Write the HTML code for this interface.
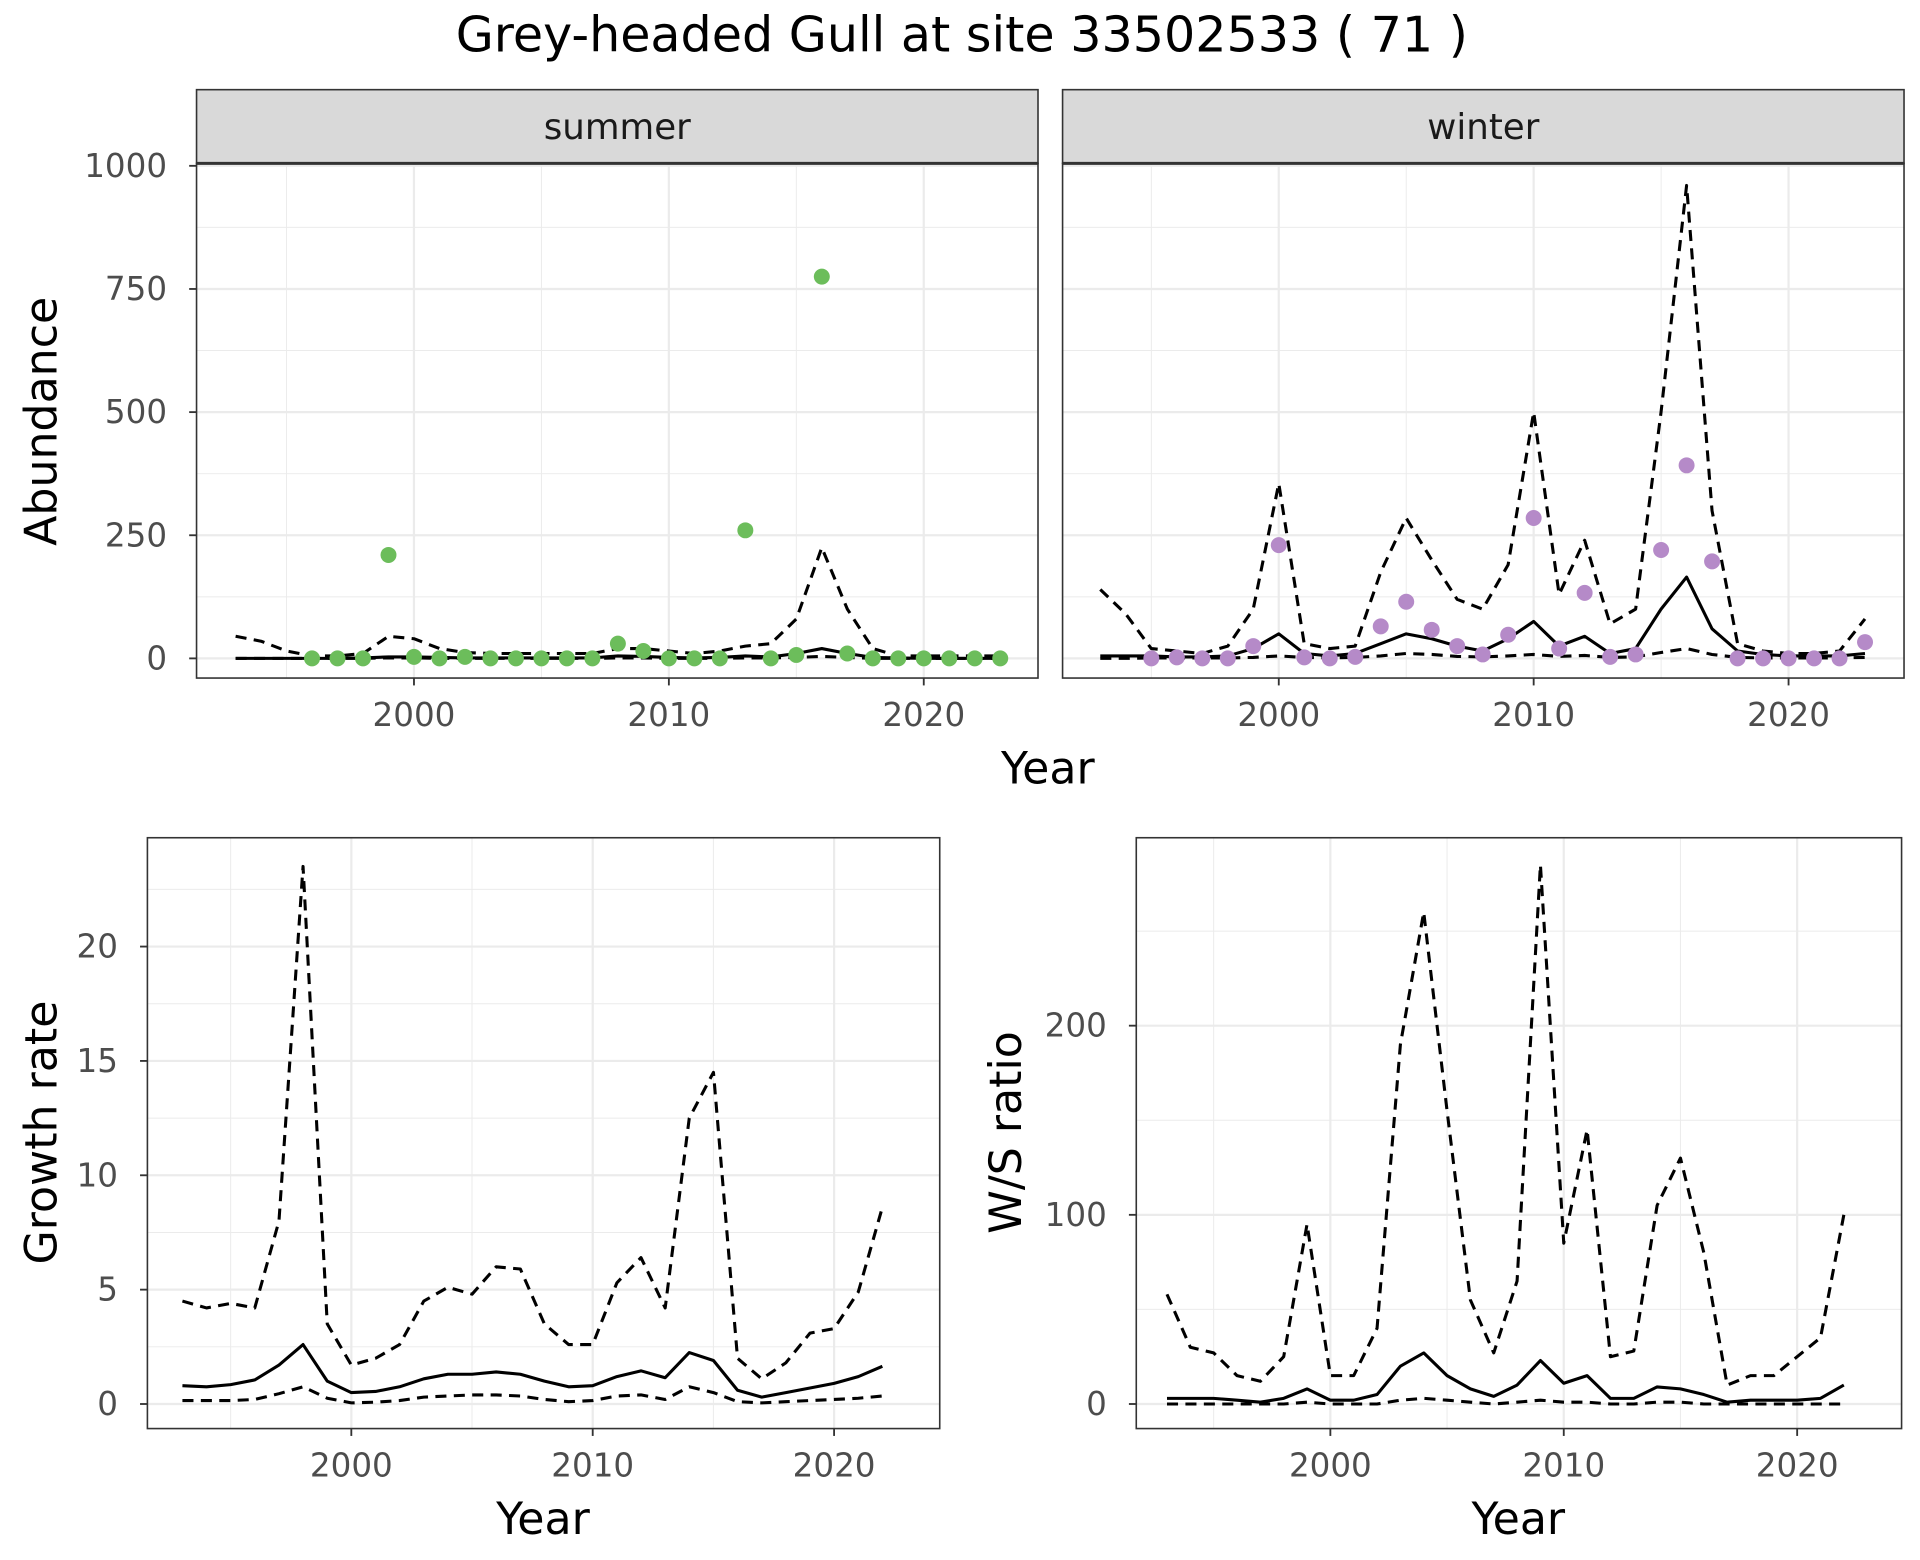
<!DOCTYPE html>
<html><head><meta charset="utf-8"><style>
html,body{margin:0;padding:0;background:#fff;}
svg{display:block;font-family:"DejaVu Sans","Liberation Sans",sans-serif;}
</style></head><body>
<svg id="c" width="1920" height="1560" viewBox="0 0 1563 1270" preserveAspectRatio="none" xmlns="http://www.w3.org/2000/svg">
<text x="783" y="42" text-anchor="middle" font-size="40" fill="#000">Grey-headed Gull at site 33502533 ( 71 )</text>
</svg>
<script>
const summerYears=[1996,1997,1998,1999,2000,2001,2002,2003,2004,2005,2006,2007,2008,2009,2010,2011,2012,2013,2014,2015,2016,2017,2018,2019,2020,2021,2022,2023];
const summerCounts=[0,0,0,210,3,0,3,0,0,0,0,0,30,15,0,0,0,260,0,7,775,10,0,0,0,0,0,0];
const fitYears=[1993,1994,1995,1996,1997,1998,1999,2000,2001,2002,2003,2004,2005,2006,2007,2008,2009,2010,2011,2012,2013,2014,2015,2016,2017,2018,2019,2020,2021,2022,2023];
const summerMid=[0,0,0,0,0,1,3,3,2,1,1,1,1,1,1,5,4,2,1,2,5,3,10,20,10,2,1,0,0,0,0];
const summerUp=[45,35,15,5,5,10,45,40,20,12,10,10,10,10,10,20,20,15,10,15,25,30,80,225,100,20,5,5,5,5,5];
const summerLo=[0,0,0,0,0,0,1,1,0,0,0,0,0,0,0,1,1,0,0,0,1,1,2,4,2,0,0,0,0,0,0];
const winterYears=[1995,1996,1997,1998,1999,2000,2001,2002,2003,2004,2005,2006,2007,2008,2009,2010,2011,2012,2013,2014,2015,2016,2017,2018,2019,2020,2021,2022,2023];
const winterCounts=[0,2,0,0,25,230,2,0,3,65,115,58,25,8,48,285,20,133,3,8,220,392,197,0,0,0,0,0,33];
const winterMid=[5,5,5,3,3,5,20,50,10,5,10,30,50,40,25,15,40,75,25,45,10,20,100,165,60,15,8,5,5,5,10];
const winterUp=[140,90,20,15,10,25,100,355,30,20,25,175,285,200,120,100,190,500,130,240,70,100,500,960,300,30,15,10,10,15,80];
const winterLo=[0,0,1,1,1,1,2,5,2,1,2,5,10,8,4,3,5,8,4,6,2,3,12,20,8,2,1,1,1,1,2];
const grYears=[1993,1994,1995,1996,1997,1998,1999,2000,2001,2002,2003,2004,2005,2006,2007,2008,2009,2010,2011,2012,2013,2014,2015,2016,2017,2018,2019,2020,2021,2022];
const grMid=[0.8,0.75,0.85,1.05,1.7,2.6,1.0,0.5,0.55,0.75,1.1,1.3,1.3,1.4,1.3,1.0,0.75,0.8,1.2,1.45,1.15,2.25,1.9,0.6,0.3,0.5,0.7,0.9,1.2,1.65];
const grUp=[4.5,4.2,4.4,4.2,8,23.5,3.5,1.7,2.0,2.6,4.5,5.1,4.8,6.0,5.9,3.5,2.6,2.6,5.3,6.4,4.2,12.5,14.5,2.0,1.1,1.8,3.1,3.3,4.9,8.6];
const grLo=[0.15,0.15,0.15,0.2,0.45,0.75,0.25,0.05,0.08,0.15,0.3,0.35,0.4,0.4,0.35,0.2,0.1,0.15,0.35,0.4,0.2,0.75,0.5,0.1,0.05,0.1,0.15,0.2,0.25,0.35];
const wsMid=[3,3,3,2,1,3,8,2,2,5,20,27,15,8,4,10,23,11,15,3,3,9,8,5,1,2,2,2,3,10];
const wsUp=[58,30,27,15,12,25,95,15,15,40,190,260,155,55,27,65,285,85,145,25,28,105,130,80,10,15,15,25,35,100];
const wsLo=[0,0,0,0,0,0,1,0,0,0,2,3,2,1,0,1,2,1,1,0,0,1,1,0,0,0,0,0,0,0];
const topTicks=[0,250,500,750,1000];
const grTicks=[0,5,10,15,20];
const wsTicks=[0,100,200];
const xTicks=[2000,2010,2020];

const svg=document.getElementById('c');
const NS='http://www.w3.org/2000/svg';
function mk(tag,attrs,parent){const e=document.createElementNS(NS,tag);for(const k in attrs)e.setAttribute(k,attrs[k]);(parent||svg).appendChild(e);return e;}
function lin(d0,d1,r0,r1){return v=>r0+(v-d0)*(r1-r0)/(d1-d0);}

function panel(p){
  const g=mk('g',{});
  
  
  const x=lin(p.xd[0],p.xd[1],p.l,p.r), y=lin(p.yd[0],p.yd[1],p.b,p.t);
  p.xMinor.forEach(v=>{const l=mk('line',{x1:x(v),x2:x(v),y1:p.t,y2:p.b,stroke:'#ebebeb','stroke-width':0.8},g);});
  p.yMinor.forEach(v=>{const l=mk('line',{x1:p.l,x2:p.r,y1:y(v),y2:y(v),stroke:'#ebebeb','stroke-width':0.8},g);});
  p.xT.forEach(v=>{const l=mk('line',{x1:x(v),x2:x(v),y1:p.t,y2:p.b,stroke:'#ebebeb','stroke-width':1.8},g);});
  p.yT.forEach(v=>{const l=mk('line',{x1:p.l,x2:p.r,y1:y(v),y2:y(v),stroke:'#ebebeb','stroke-width':1.8},g);});
  p.series.forEach(s=>{
    const d=s.xs.map((v,i)=>(i?'L':'M')+x(v).toFixed(1)+','+y(s.ys[i]).toFixed(1)).join('');
    const path=mk('path',{d:d,fill:'none',stroke:'#000','stroke-width':2.5,'stroke-dasharray':s.dash||'none','stroke-linejoin':'round'},g);
    
    
  });
  if(p.pts){p.pts.xs.forEach((v,i)=>{const c=mk('circle',{cx:x(v),cy:y(p.pts.ys[i]),r:6.5,fill:p.pts.color},g);
    
    });}
  const br=mk('rect',{x:p.l,y:p.t,width:p.r-p.l,height:p.b-p.t,fill:'none',stroke:'#333','stroke-width':1.3},g);
  
  
  p.xT.forEach(v=>{mk('line',{x1:x(v),x2:x(v),y1:p.b,y2:p.b+6,stroke:'#333','stroke-width':1.5},g);
    const t=mk('text',{x:x(v),y:p.b+39,'text-anchor':'middle','font-size':26.5,fill:'#4d4d4d'},g);t.textContent=v;
    
    });
  if(p.yLabels){p.yT.forEach(v=>{mk('line',{x1:p.l-6,x2:p.l,y1:y(v),y2:y(v),stroke:'#333','stroke-width':1.5},g);
    const t=mk('text',{x:p.l-24,y:y(v)+9,'text-anchor':'end','font-size':26.5,fill:'#4d4d4d'},g);t.textContent=v;
    
    });}
  if(p.strip){const sr=mk('rect',{x:p.l,y:73,width:p.r-p.l,height:p.t-73,fill:'#d9d9d9',stroke:'#333','stroke-width':1.3},g);
    
    
    mk('line',{x1:p.l,x2:p.r,y1:p.t,y2:p.t,stroke:'#333','stroke-width':2.5},g);
    const t=mk('text',{x:(p.l+p.r)/2,y:113,'text-anchor':'middle','font-size':29,fill:'#1a1a1a'},g);t.textContent=p.strip;
    
    }
}
function label(txt,x,y,rot,name){const t=mk('text',{x:x,y:y,'text-anchor':'middle','font-size':36,fill:'#000',transform:rot?`rotate(-90 ${x} ${y})`:''});t.textContent=txt;
  
  }

const topY=[ -(552-536)/0.401, (536-133)/0.401 ];
panel({name:'summer-panel',l:160,r:845,t:133,b:552,xd:[2000-(337-160)/20.75,2000+(845-337)/20.75],yd:topY,xT:xTicks,xMinor:[1995,2005,2015],yT:topTicks,yMinor:[125,375,625,875],yLabels:true,strip:'summer',
  series:[{name:'summer-upper-line',xs:fitYears,ys:summerUp,dash:'9,6'},{name:'summer-lower-line',xs:fitYears,ys:summerLo,dash:'9,6'},{name:'summer-mid-line',xs:fitYears,ys:summerMid}],
  pts:{xs:summerYears,ys:summerCounts,color:'#6cbd5b'}});
panel({name:'winter-panel',l:865,r:1550,t:133,b:552,xd:[2000-(1041-865)/20.75,2000+(1550-1041)/20.75],yd:topY,xT:xTicks,xMinor:[1995,2005,2015],yT:topTicks,yMinor:[125,375,625,875],yLabels:false,strip:'winter',
  series:[{name:'winter-upper-line',xs:fitYears,ys:winterUp,dash:'9,6'},{name:'winter-lower-line',xs:fitYears,ys:winterLo,dash:'9,6'},{name:'winter-mid-line',xs:fitYears,ys:winterMid}],
  pts:{xs:winterYears,ys:winterCounts,color:'#b58ac8'}});
panel({name:'growth-rate-panel',l:120,r:765,t:682,b:1163,xd:[2000-(286-120)/19.65,2000+(765-286)/19.65],yd:[-(1163-1143)/18.62,(1143-682)/18.62],xT:xTicks,xMinor:[1995,2005,2015],yT:grTicks,yMinor:[2.5,7.5,12.5,17.5,22.5],yLabels:true,
  series:[{name:'growth-upper-line',xs:grYears,ys:grUp,dash:'9,6'},{name:'growth-lower-line',xs:grYears,ys:grLo,dash:'9,6'},{name:'growth-mid-line',xs:grYears,ys:grMid}]});
panel({name:'ws-ratio-panel',l:925,r:1548,t:682,b:1163,xd:[2000-(1083-925)/19,2000+(1548-1083)/19],yd:[-(1163-1143)/1.54,(1143-682)/1.54],xT:xTicks,xMinor:[1995,2005,2015],yT:wsTicks,yMinor:[50,150,250],yLabels:true,
  series:[{name:'ws-upper-line',xs:grYears,ys:wsUp,dash:'9,6'},{name:'ws-lower-line',xs:grYears,ys:wsLo,dash:'9,6'},{name:'ws-mid-line',xs:grYears,ys:wsMid}]});
label('Year',853,638,false,'top-x-axis-title');
label('Abundance',46,343,true,'abundance-axis-title');
label('Year',442,1249,false,'growth-x-axis-title');
label('Growth rate',46,922,true,'growth-axis-title');
label('Year',1236,1249,false,'ws-x-axis-title');
label('W/S ratio',831,922,true,'ws-axis-title');
</script>
</body></html>
